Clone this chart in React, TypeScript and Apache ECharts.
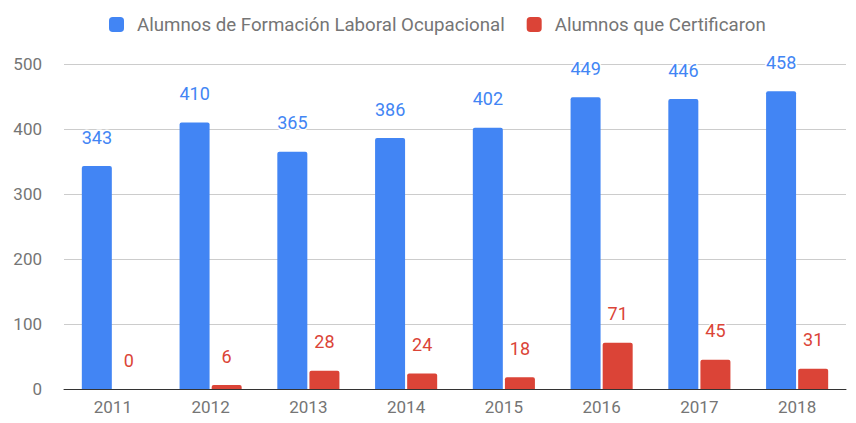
import React, { useEffect, useRef } from "react";
import * as echarts from "echarts";

const categories = ["2011", "2012", "2013", "2014", "2015", "2016", "2017", "2018"];
const alumnosFormacion = [343, 410, 365, 386, 402, 449, 446, 458];
const alumnosCertificaron = [0, 6, 28, 24, 18, 71, 45, 31];
const seriesNames = ["Alumnos de Formación Laboral Ocupacional", "Alumnos que Certificaron"];

export default function App() {
  const ref = useRef<HTMLDivElement>(null);
  useEffect(() => {
    const chart = echarts.init(ref.current!, undefined, { renderer: "svg" });
    const labelCommon = {
      show: true,
      position: "top" as const,
      distance: 20,
      fontSize: 18,
      fontFamily: "Roboto",
      textBorderColor: "#ffffff",
      textBorderWidth: 3,
    };
    chart.setOption({
      animation: false,
      textStyle: { fontFamily: "Roboto" },
      legend: {
        top: 2,
        left: 96,
        itemWidth: 15,
        itemHeight: 15,
        itemGap: 22,
        icon: "roundRect",
        textStyle: { color: "#757575", fontSize: 18.7, fontFamily: "Roboto", padding: [0, 0, 0, 8] },
        data: seriesNames,
      },
      grid: { left: 56, right: 2, top: 56, bottom: 20, containLabel: false },
      xAxis: {
        type: "category",
        data: categories,
        axisLine: { show: true, lineStyle: { color: "#333333", width: 1 } },
        axisTick: { show: false },
        axisLabel: { color: "#757575", fontSize: 17, margin: 9 },
      },
      yAxis: {
        type: "value",
        min: 0,
        max: 500,
        interval: 100,
        axisLine: { show: false },
        axisTick: { show: false },
        axisLabel: { color: "#757575", fontSize: 17, margin: 22 },
        splitLine: { lineStyle: { color: "#cccccc", width: 1 } },
      },
      series: [
        {
          name: seriesNames[0],
          type: "bar",
          data: alumnosFormacion,
          barWidth: 30,
          barGap: "7%",
          itemStyle: { color: "#4285F4", borderRadius: [2, 2, 0, 0] },
          label: { ...labelCommon, color: "#4285F4" },
        },
        {
          name: seriesNames[1],
          type: "bar",
          data: alumnosCertificaron,
          barWidth: 30,
          itemStyle: { color: "#DB4437", borderRadius: [2, 2, 0, 0] },
          label: { ...labelCommon, color: "#DB4437" },
        },
      ],
    });
    return () => chart.dispose();
  }, []);
  return <div ref={ref} style={{ width: 840, height: 407 }} />;
}
